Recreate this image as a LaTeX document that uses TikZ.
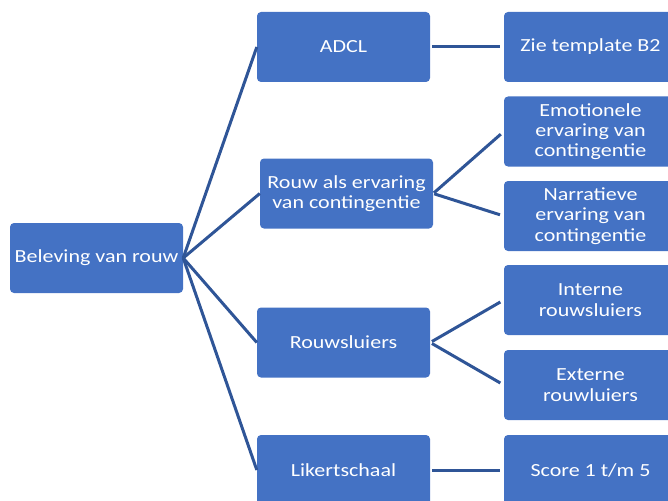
\documentclass[tikz,border=0pt]{standalone}
\usepackage{fontspec}
\setmainfont[FakeStretch=1.19]{Carlito}
\definecolor{boxblue}{HTML}{4472C4}
\definecolor{lineblue}{HTML}{2F5597}
\tikzset{
  box/.style={draw=none, fill=boxblue, rounded corners=4pt, minimum width=173pt, minimum height=70pt,
    text=white, align=center, font=\fontsize{18.5}{20.3}\selectfont, inner sep=0pt},
  conn/.style={draw=lineblue, line width=3pt}
}
\begin{document}
\begin{tikzpicture}[x=1pt,y=1pt]
\useasboundingbox (0,0) rectangle (668,-500);
\clip (0,0) rectangle (668,-500);
\node[box] (root) at (96.5,-258) {Beleving van rouw};
\node[box] (adcl) at (343.5,-47) {ADCL};
\node[box] (rouw) at (346.5,-193.5) {Rouw als ervaring\\van contingentie};
\node[box] (sluier) at (343.5,-342.5) {Rouwsluiers};
\node[box] (likert) at (343.5,-470) {Likertschaal};
\node[box] (zie) at (590.5,-47) {Zie template B2};
\node[box] (emo) at (590.5,-131.5) {Emotionele\\ervaring van\\contingentie};
\node[box] (nar) at (590.5,-216) {Narratieve\\ervaring van\\contingentie};
\node[box] (int) at (590.5,-300) {Interne\\rouwsluiers};
\node[box] (ext) at (590.5,-385) {Externe\\rouwluiers};
\node[box] (score) at (590.5,-470) {Score 1 t/m 5};
\draw[conn] (root.east) -- (adcl.west);
\draw[conn] (root.east) -- (rouw.west);
\draw[conn] (root.east) -- (sluier.west);
\draw[conn] (root.east) -- (likert.west);
\draw[conn, shorten <=2pt, shorten >=4pt] (adcl.east) -- (zie.west);
\draw[conn, shorten <=1pt, shorten >=4pt] (rouw.east) -- (emo.west);
\draw[conn, shorten <=1pt, shorten >=4pt] (rouw.east) -- (nar.west);
\draw[conn, shorten <=2pt, shorten >=4pt] (sluier.east) -- (int.west);
\draw[conn, shorten <=2pt, shorten >=4pt] (sluier.east) -- (ext.west);
\draw[conn, shorten <=2pt, shorten >=4pt] (likert.east) -- (score.west);
\end{tikzpicture}
\end{document}
